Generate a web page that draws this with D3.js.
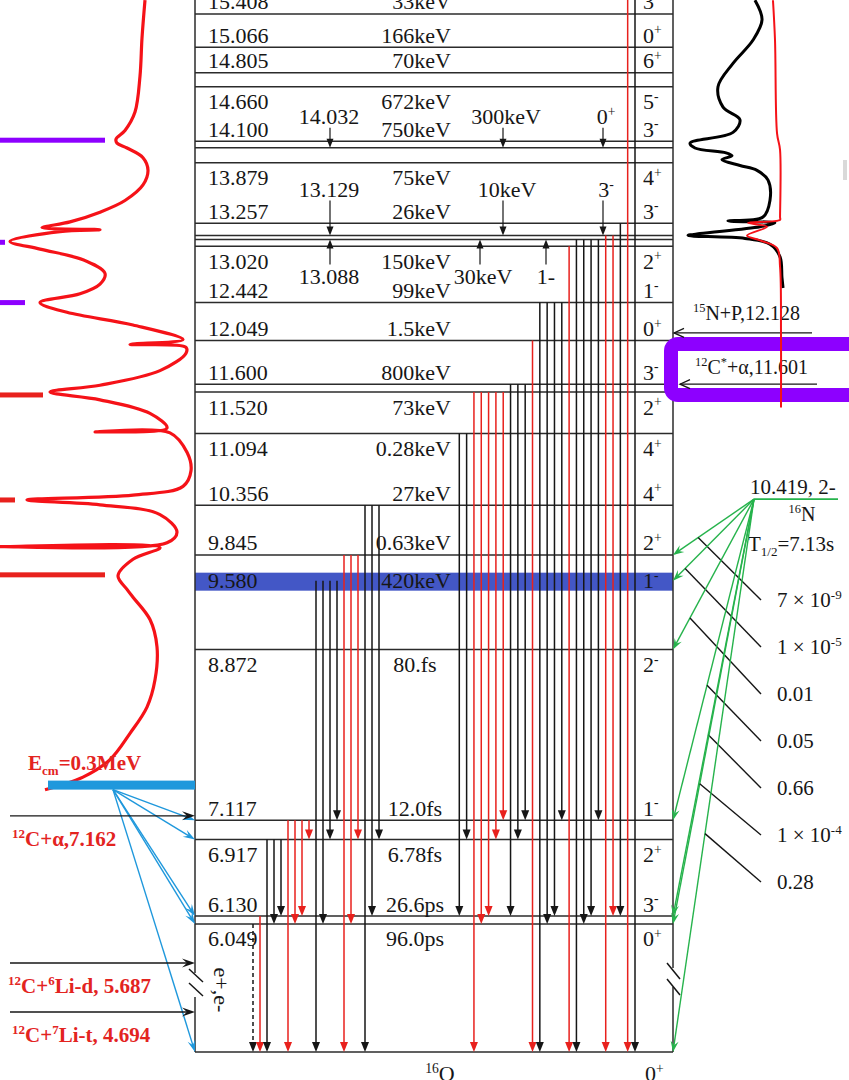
<!DOCTYPE html>
<html>
<head>
<meta charset="utf-8">
<title>16O level scheme</title>
<script src="https://cdn.jsdelivr.net/npm/d3@7/dist/d3.min.js"></script>
<style>
  html, body { margin: 0; padding: 0; background: #fff; }
  svg { display: block; font-family: "Liberation Serif", "Times New Roman", serif; }
</style>
</head>
<body>
<svg id="chart" width="849" height="1080"></svg>
<script>
// ---------------- 16O levels (MeV), widths / lifetimes, spin-parity ----------------
const levelEnergies = [15.408, 15.066, 14.805, 14.660, 14.100, 13.879, 13.257, 13.020, 12.442, 12.049,
                       11.600, 11.520, 11.094, 10.356, 9.845, 9.580, 8.872, 7.117, 6.917, 6.130, 6.049];
const levelLabels  = ["15.408","15.066","14.805","14.660","14.100","13.879","13.257","13.020","12.442","12.049",
                      "11.600","11.520","11.094","10.356","9.845","9.580","8.872","7.117","6.917","6.130","6.049"];
const levelWidths  = ["33keV","166keV","70keV","672keV","750keV","75keV","26keV","150keV","99keV","1.5keV",
                      "800keV","73keV","0.28keV","27keV","0.63keV","420keV","80.fs","12.0fs","6.78fs","26.6ps","96.0ps"];
const levelSpins   = ["3^{-}","0^{+}","6^{+}","5^{-}","3^{-}","4^{+}","3^{-}","2^{+}","1^{-}","0^{+}",
                      "3^{-}","2^{+}","4^{+}","4^{+}","2^{+}","1^{-}","2^{-}","1^{-}","2^{+}","3^{-}","0^{+}"];
const groundEnergy = 0;
const groundSpin = "0^{+}";
const nucleusLabel = "^{16}O";

// levels annotated inside the scheme with pointer arrows
const innerLevels = [14.032, 13.129, 13.088];
const innerLabels = ["14.032", "13.129", "13.088"];
const innerWidths = ["300keV", "10keV", "30keV"];
const innerSpins  = ["0^{+}", "3^{-}", "1-"];

const highlightedLevel = 9.580;

// gamma transitions: [initial MeV, final MeV, kind]  kind: k = black, r = red, d = E0 pair (dashed)
const gammasLow = [
  [6.049, 0, "d"], [6.130, 0, "r"],
  [6.917, 0, "k"], [6.917, 6.049, "k"], [6.917, 6.130, "k"],
  [7.117, 0, "r"], [7.117, 6.049, "r"], [7.117, 6.130, "r"], [7.117, 6.917, "r"],
  [9.580, 0, "k"], [9.580, 6.049, "k"], [9.580, 6.917, "k"], [9.580, 7.117, "k"],
  [9.845, 0, "r"], [9.845, 6.049, "r"], [9.845, 6.917, "r"],
  [10.356, 0, "k"], [10.356, 6.130, "k"], [10.356, 6.917, "k"]
];
const gammasHigh = [
  [11.094, 6.130, "k"], [11.094, 6.917, "k"],
  [11.520, 0, "r"], [11.520, 6.049, "r"], [11.520, 6.130, "r"], [11.520, 6.917, "r"], [11.520, 7.117, "r"],
  [11.600, 6.130, "k"], [11.600, 6.917, "k"], [11.600, 7.117, "k"],
  [12.049, 0, "r"],
  [12.442, 0, "k"], [12.442, 6.049, "k"], [12.442, 6.130, "k"], [12.442, 7.117, "k"],
  [13.020, 0, "r"],
  [13.088, 0, "k"], [13.088, 6.049, "k"], [13.088, 6.130, "k"], [13.088, 7.117, "k"],
  [13.129, 0, "r"], [13.129, 6.130, "r"],
  [13.257, 6.130, "k"],
  [null, 0, "r"], [null, 0, "k"]          // from states above the drawn range
];

// ---------------- entrance channels ----------------
const channelEnergies = [7.162, 5.687, 4.694];
const channelLabels   = ["^{12}C+α,7.162", "^{12}C+^{6}Li-d, 5.687", "^{12}C+^{7}Li-t, 4.694"];
const ecmValue = 0.3;                       // MeV above the 12C+α threshold
const ecmLabel = "E_{cm}=0.3MeV";
const ecmFeeds = [7.117, 6.917, 6.130, 6.049, 0];

const rightChannelEnergies = [12.128, 11.601];
const rightChannelLabels   = ["^{15}N+P,12.128", "^{12}C^{*}+α,11.601"];

// ---------------- 16N beta decay ----------------
const parentEnergy = 10.419;
const parentLabel = "10.419, 2-";
const parentNucleus = "^{16}N";
const parentHalfLife = "T_{1/2}=7.13s";
const betaTargets = [9.845, 9.580, 8.872, 7.117, 6.130, 6.049, 0];
const betaBranches = ["7 × 10^{-9}", "1 × 10^{-5}", "0.01", "0.05", "0.66", "1 × 10^{-4}", "0.28"];

// ---------------- excitation functions (energy MeV, yield a.u.) ----------------
const leftSpecE = [15.55,15.16,14.77,14.40,14.21,14.12,14.08,14.03,13.93,13.80,13.65,13.49,13.37,13.27,13.21,13.19,13.17,
  13.07,12.99,12.88,12.74,12.63,12.53,12.44,12.34,12.21,12.06,12.01,11.98,11.92,11.74,11.59,11.52,11.44,11.30,11.15,11.11,
  11.10,10.90,10.71,10.55,10.46,10.41,10.36,10.26,10.08,9.97,9.93,9.92,9.80,9.63,9.49,9.41,9.18,8.90,8.56,8.28,8.01,7.74,7.56,7.43];
const leftSpecYield = [72.5,71,70,67.5,62.5,58,58.5,63.5,71.5,74,71.5,62.5,50,35,21,50,30,
  5,20,41.5,52.5,50,40,20,33.5,66.5,91.5,65,93,93,80,50,25,50,75,83.5,47.5,
  85,93.5,95.5,91.5,66.5,13.5,50,80,88.5,83.5,0,80,66.5,59,63.5,66.5,75,78.5,77.5,73.5,65,55,41.5,22.5];

const purpleMarkE = [14.11, 13.06, 12.44];
const purpleMarkYield = [52.5, 2.5, 12.5];
const redMarkE = [11.49, 10.41, 9.64];
const redMarkYield = [21.5, 7.5, 52.5];

const rightSpecE = [15.55,15.35,15.14,14.90,14.66,14.45,14.32,14.19,14.08,14.03,13.98,13.95,13.91,13.85,13.80,13.70,
  13.49,13.32,13.28,13.26,13.22,13.15,13.13,13.10,13.04,12.91,12.70,12.59];
const rightSpecYield = [70.8,76.7,69.2,52.5,40,44.2,58.3,52.5,16.7,20.8,46.7,51.7,43.3,58.3,72.5,81.7,
  83.3,77.5,48.3,87.5,75,25,15,62.5,83.3,91.7,93.3,94.2];
const rightFitE = [15.55,15.14,14.18,14.01,13.32,13.29,13.26,13.22,13.13,13.08,13.00,12.81,12.13,11.36];
const rightFitYield = [85.8,87.5,89.2,91.7,91.7,91.7,65,80.8,64.2,75,89.2,91.7,92.5,92.5];

// ======================================================================
const svg = d3.select("#chart");
const C = {
  ink: "#161616", level: "#2b2b2b", red: "#e8211d", curve: "#f51218", purple: "#8d00ff",
  band: "#4357c6", azure: "#1f98dc", green: "#26b34c", label: "#e3241f"
};

// broken energy axis: linear above 6 MeV, compressed below
const y = d3.scaleLinear()
  .domain([0, 4.694, 5.687, 6.049, 15.408])
  .range([1052, 1012, 963, 924, 14]);

const X0 = 195, X1 = 673;
const xLow  = d3.scaleLinear().domain([0, gammasLow.length - 1]).range([253, 379]);
const xHigh = d3.scaleLinear().domain([0, gammasHigh.length - 1]).range([459.3, 635]);
const xLeftSpec  = d3.scaleLinear().domain([0, 100]).range([0, 200]);
const xRightSpec = d3.scaleLinear().domain([0, 100]).range([670, 790]);

// --- helpers ---
function markup(s) {
  const out = [], re = /([\^_])\{([^}]*)\}|([^\^_]+)/g; let m;
  while ((m = re.exec(s)) !== null) {
    if (m[3] !== undefined) out.push([m[3], ""]);
    else out.push([m[2], m[1] === "^" ? "sup" : "sub"]);
  }
  return out;
}
function richText(parent, x, cy, str, opt = {}) {
  const size = opt.size || 22;
  const t = parent.append("text")
    .attr("x", x).attr("y", cy + size * 0.34)
    .attr("font-size", size)
    .attr("text-anchor", opt.anchor || "start")
    .attr("fill", opt.fill || C.ink);
  if (opt.weight) t.attr("font-weight", opt.weight);
  if (opt.transform) t.attr("transform", opt.transform);
  let off = 0;
  markup(str).forEach(([txt, mode]) => {
    const target = mode === "sup" ? -size * 0.38 : mode === "sub" ? size * 0.24 : 0;
    t.append("tspan").attr("dy", target - off)
      .attr("font-size", mode ? size * 0.62 : size).text(txt);
    off = target;
  });
  return t;
}
function arrow(g, x1, y1, x2, y2, o) {
  const len = o.len || 10, hw = (o.w || 8) / 2, sw = o.sw || 1.4;
  const a = Math.atan2(y2 - y1, x2 - x1), c = Math.cos(a), s = Math.sin(a);
  const bx = x2 - len * c, by = y2 - len * s;
  const L = [bx - hw * s, by + hw * c], R = [bx + hw * s, by - hw * c];
  const end = o.head === "open" ? [x2, y2] : [x2 - len * 0.6 * c, y2 - len * 0.6 * s];
  g.append("line").attr("x1", x1).attr("y1", y1).attr("x2", end[0]).attr("y2", end[1])
    .attr("stroke", o.color).attr("stroke-width", sw)
    .attr("stroke-dasharray", o.dash || null);
  if (o.head === "open") {
    g.append("path").attr("d", `M${L}L${x2},${y2}L${R}`)
      .attr("fill", "none").attr("stroke", o.color).attr("stroke-width", sw);
  } else if (o.head === "notch") {
    const n = [x2 - len * 0.62 * c, y2 - len * 0.62 * s];
    g.append("path").attr("d", `M${x2},${y2}L${L}L${n}L${R}Z`).attr("fill", o.color);
  } else {
    g.append("path").attr("d", `M${x2},${y2}L${L}L${R}Z`).attr("fill", o.color);
  }
}

// --- level scheme ---
const scheme = svg.append("g");

scheme.append("rect")
  .attr("x", X0).attr("y", y(highlightedLevel) - 8)
  .attr("width", X1 - X0).attr("height", 18)
  .attr("fill", C.band);

const lineLevels = levelEnergies.concat(innerLevels, [groundEnergy]).filter(e => e !== highlightedLevel);
scheme.selectAll("line.level").data(lineLevels).join("line")
  .attr("class", "level")
  .attr("x1", X0).attr("x2", X1)
  .attr("y1", d => y(d)).attr("y2", d => y(d))
  .attr("stroke", C.level).attr("stroke-width", 1.5);

// frame sides with axis breaks
const leftBreak = [973, 997], rightBreak = [968, 987];
[[X0, leftBreak], [X1, rightBreak]].forEach(([x, br]) => {
  scheme.append("line").attr("x1", x).attr("x2", x).attr("y1", 0).attr("y2", br[0])
    .attr("stroke", C.level).attr("stroke-width", 1.5);
  scheme.append("line").attr("x1", x).attr("x2", x).attr("y1", br[1]).attr("y2", y(groundEnergy))
    .attr("stroke", C.level).attr("stroke-width", 1.5);
});
const breakMarks = [[189, 969, 203, 982], [189, 983, 203, 996], [667, 963, 680, 979], [667, 979, 680, 995]];
breakMarks.forEach(b => scheme.append("line")
  .attr("x1", b[0]).attr("y1", b[1]).attr("x2", b[2]).attr("y2", b[3])
  .attr("stroke", C.ink).attr("stroke-width", 1.5));

// gamma cascades
function drawGammas(list, xs) {
  list.forEach((d, i) => {
    const x = xs(i);
    const y1 = d[0] === null ? 0 : y(d[0]);
    const y2 = y(d[1]);
    arrow(scheme, x, y1, x, y2, {
      color: d[2] === "r" ? C.red : C.ink, len: 10, w: 8, sw: 1.5,
      dash: d[2] === "d" ? "4,3" : null
    });
  });
}
drawGammas(gammasLow, xLow);
drawGammas(gammasHigh, xHigh);

// level labels
const labelSide = ["a","a","a","b","a","b","a","b","a","a","a","b","b","a","a","m","b","a","b","a","b"];
const sideOffset = { a: -12, b: 15, m: 0 };
const labels = svg.append("g");
levelEnergies.forEach((E, i) => {
  const cy = y(E) + sideOffset[labelSide[i]];
  richText(labels, 208, cy, levelLabels[i]);
  const w = levelWidths[i];
  if (/keV$/.test(w)) richText(labels, 451, cy, w, { anchor: "end" });
  else richText(labels, 415, cy, w, { anchor: "middle" });
  richText(labels, 643, cy, levelSpins[i]);
});
richText(labels, 440, y(groundEnergy) + 22, nucleusLabel, { anchor: "middle" });
richText(labels, 645, y(groundEnergy) + 22, groundSpin);

// inner annotated levels with pointer arrows
const innerOffset = [-31, -46, 37];
const innerX = { e: 329, w: [506, 507, 483], s: [606, 606, 546] };
const innerArrowX = { e: 330, w: [503, 503, 480], s: [603, 603, 546] };
innerLevels.forEach((E, i) => {
  const ly = y(E), cy = ly + innerOffset[i];
  richText(labels, innerX.e, cy, innerLabels[i], { anchor: "middle" });
  richText(labels, innerX.w[i], cy, innerWidths[i], { anchor: "middle" });
  richText(labels, innerX.s[i], cy, innerSpins[i], { anchor: "middle" });
  const start = innerOffset[i] < 0 ? cy + 11 : cy - 12;
  [innerArrowX.e, innerArrowX.w[i], innerArrowX.s[i]].forEach(x =>
    arrow(labels, x, start, x, ly, { color: C.ink, len: 9, w: 7, sw: 1.2 }));
});

// --- left: excitation function and markers ---
const curveGen = xs => d3.line().x(d => xs(d[1])).y(d => y(d[0])).curve(d3.curveCatmullRom.alpha(0.5));
const left = svg.append("g");
left.append("path").datum(d3.zip(leftSpecE, leftSpecYield))
  .attr("d", curveGen(xLeftSpec)).attr("fill", "none")
  .attr("stroke", C.curve).attr("stroke-width", 3.2).attr("stroke-linejoin", "round");
purpleMarkE.forEach((E, i) => left.append("rect")
  .attr("x", 0).attr("y", y(E) - 2.5).attr("width", xLeftSpec(purpleMarkYield[i])).attr("height", 5)
  .attr("fill", C.purple));
redMarkE.forEach((E, i) => left.append("rect")
  .attr("x", 0).attr("y", y(E) - 2.5).attr("width", xLeftSpec(redMarkYield[i])).attr("height", 5)
  .attr("fill", C.red));

// Ecm window and its feeding
const ecmE = channelEnergies[0] + ecmValue;
left.append("rect").attr("x", 48).attr("y", y(ecmE) - 6).attr("width", X0 - 48).attr("height", 9)
  .attr("fill", C.azure);
richText(left, 28, y(ecmE) - 24, ecmLabel, { fill: C.label, weight: "bold", size: 21 });
ecmFeeds.forEach(E => arrow(left, 113, y(ecmE) + 3, X0, y(E), { color: C.azure, len: 12, w: 8, sw: 1.4, head: "notch" }));

// entrance channels
channelEnergies.forEach((E, i) => {
  arrow(left, 10, y(E), X0, y(E), { color: C.ink, len: 13, w: 9, sw: 1.3, head: "notch" });
  richText(left, i === 1 ? 8 : 12, y(E) + 23, channelLabels[i], { fill: C.label, weight: "bold", size: 21 });
});
richText(left, 221, 990, "e+,e-", { anchor: "middle", transform: "rotate(90,221,990)" });

// --- right: spectra, exit channels, 16N decay ---
const right = svg.append("g");
right.append("path").datum(d3.zip(rightSpecE, rightSpecYield))
  .attr("d", curveGen(xRightSpec)).attr("fill", "none")
  .attr("stroke", "#000").attr("stroke-width", 3).attr("stroke-linejoin", "round");

right.append("rect").attr("x", 671).attr("y", 344).attr("width", 190).attr("height", 51).attr("rx", 7)
  .attr("fill", "#fff").attr("stroke", C.purple).attr("stroke-width", 14);
right.append("rect").attr("x", 843).attr("y", 160).attr("width", 4).attr("height", 20).attr("fill", "#d9d9d9");

const chanX = [[812, 674], [817, 680]];
rightChannelEnergies.forEach((E, i) => {
  arrow(right, chanX[i][0], y(E), chanX[i][1], y(E), { color: C.ink, len: 10, w: 9, sw: 1.3, head: "open" });
  richText(right, i === 0 ? 693 : 695, y(E) - (i === 0 ? 20 : 17), rightChannelLabels[i], { size: 20 });
});

right.append("path").datum(d3.zip(rightFitE, rightFitYield))
  .attr("d", curveGen(xRightSpec)).attr("fill", "none")
  .attr("stroke", C.curve).attr("stroke-width", 2);

// 16N parent and branches
const py = y(parentEnergy), px = 754;
right.append("line").attr("x1", px).attr("x2", 838).attr("y1", py).attr("y2", py)
  .attr("stroke", C.green).attr("stroke-width", 1.6);
richText(right, 750, py - 12, parentLabel, { size: 21 });
richText(right, 802, py + 15, parentNucleus, { size: 20, anchor: "middle" });
richText(right, 748, py + 45, parentHalfLife, { size: 21 });

const leadT = [0.69, 0.85, 0.79, 0.58, 0.565, 0.67, 0.605];
betaTargets.forEach((E, i) => {
  const tx = X1, ty = y(E);
  arrow(right, px, py, tx, ty, { color: C.green, len: 11, w: 8, sw: 1.4, head: "notch" });
  const sx = px + (tx - px) * leadT[i], sy = py + (ty - py) * leadT[i];
  const labY = 600 + i * 47;
  right.append("line").attr("x1", sx).attr("y1", sy).attr("x2", 761).attr("y2", labY)
    .attr("stroke", C.ink).attr("stroke-width", 1.4);
  richText(right, 777, labY, betaBranches[i], { size: 21 });
});
</script>
</body>
</html>
